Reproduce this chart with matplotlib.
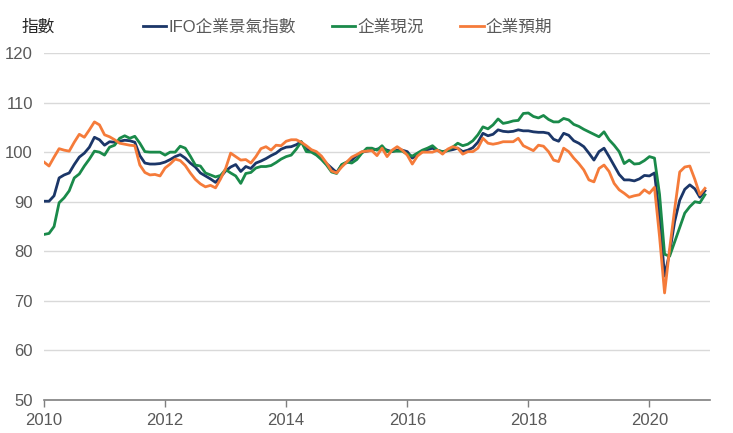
import matplotlib.pyplot as plt
import numpy as np

plt.rcParams['font.family'] = ['Liberation Sans', 'Noto Sans CJK TC']

# monthly values, Jan 2010 - Dec 2020
ifo_climate = [
    90.1, 90.1, 91.2, 94.8, 95.4, 95.8, 97.5, 99.0, 99.8, 101.0, 103.0, 102.5,
    101.4, 102.1, 102.0, 102.2, 102.4, 102.3, 102.0, 99.3, 97.8, 97.6, 97.6, 97.7,
    98.0, 98.5, 99.1, 99.5, 98.8, 97.8, 97.0, 95.8, 95.2, 94.6, 93.9, 95.0,
    96.2, 97.0, 97.5, 96.1, 97.1, 96.7, 97.8, 98.2, 98.7, 99.3, 99.8, 100.6,
    101.0, 101.1, 101.5, 102.1, 100.6, 100.2, 99.8, 98.8, 97.7, 96.8, 95.9, 97.4,
    97.9, 98.4, 99.3, 100.0, 100.2, 100.4, 100.6, 100.8, 100.4, 100.1, 100.4, 100.4,
    100.1, 98.8, 99.5, 100.1, 100.5, 100.8, 100.3, 100.1, 100.3, 100.5, 100.8, 100.1,
    100.4, 100.9, 102.0, 103.8, 103.3, 103.6, 104.5, 104.2, 104.1, 104.2, 104.5, 104.3,
    104.3, 104.1, 104.0, 104.0, 103.8, 102.6, 102.2, 103.8, 103.4, 102.3, 101.8, 101.1,
    99.8, 98.4, 100.1, 100.8, 99.1, 97.3, 95.5, 94.4, 94.4, 94.2, 94.6, 95.3,
    95.2, 95.8, 87.0, 75.0, 79.7, 86.0, 90.3, 92.5, 93.4, 92.6, 90.9, 92.2,
]

situation = [
    83.4, 83.6, 85.0, 89.8, 90.8, 92.2, 94.8, 95.6, 97.2, 98.6, 100.2, 100.0,
    99.4, 101.0, 101.4, 102.8, 103.3, 102.8, 103.2, 101.8, 100.1, 100.0, 100.0, 100.0,
    99.4, 100.0, 100.0, 101.2, 100.8, 99.2, 97.4, 97.2, 95.8, 95.4, 95.0, 95.3,
    96.5, 95.8, 95.2, 93.7, 95.7, 95.9, 96.8, 97.1, 97.1, 97.3, 97.9, 98.6,
    99.1, 99.4, 100.6, 102.1, 100.1, 100.0, 99.4, 98.5, 97.4, 96.0, 95.7, 97.5,
    98.0, 97.8, 98.5, 99.8, 100.8, 100.8, 100.4, 101.3, 100.1, 100.2, 100.2, 100.2,
    99.6, 99.2, 99.8, 100.4, 100.8, 101.3, 100.4, 100.1, 100.3, 101.0, 101.8, 101.3,
    101.6, 102.3, 103.5, 105.1, 104.7, 105.5, 106.7, 105.8, 106.0, 106.3, 106.4, 107.8,
    107.9, 107.2, 106.9, 107.4, 106.6, 106.1, 106.1, 106.8, 106.5, 105.6, 105.2, 104.6,
    104.1, 103.6, 103.1, 104.1, 102.5, 101.4, 100.1, 97.7, 98.4, 97.6, 97.7, 98.3,
    99.1, 98.8, 91.5, 79.4, 79.0, 81.9, 84.8, 87.7, 89.0, 90.0, 89.8, 91.4,
]

expectations = [
    98.0, 97.2, 99.0, 100.7, 100.4, 100.2, 102.0, 103.6, 103.0, 104.5, 106.1, 105.5,
    103.5, 103.1, 102.5, 101.8, 101.6, 101.4, 101.3, 97.4, 95.9, 95.4, 95.5, 95.2,
    96.8, 97.6, 98.6, 98.3, 97.3, 95.8, 94.5, 93.6, 93.0, 93.3, 92.8, 94.6,
    96.7, 99.8, 99.1, 98.4, 98.5, 97.8, 99.1, 100.7, 101.1, 100.4, 101.4, 101.3,
    102.2, 102.5, 102.5, 102.0, 101.3, 100.5, 100.1, 99.2, 97.8, 96.2, 95.8, 97.0,
    98.0, 99.0, 99.5, 100.1, 100.2, 100.3, 99.3, 100.8, 99.1, 100.4, 101.1, 100.4,
    99.4, 97.6, 99.2, 100.0, 100.0, 100.0, 100.4, 99.6, 100.6, 101.1, 100.8, 99.6,
    100.1, 100.1, 100.8, 102.8, 101.8, 101.6, 101.8, 102.1, 102.1, 102.1, 102.8, 101.3,
    100.8, 100.3, 101.4, 101.2, 100.1, 98.4, 98.1, 100.8, 100.1, 98.8, 97.7, 96.4,
    94.4, 94.0, 96.7, 97.4, 96.1, 93.7, 92.4, 91.7, 90.9, 91.2, 91.4, 92.4,
    91.7, 92.9, 83.0, 71.6, 80.5, 88.5, 96.0, 97.0, 97.2, 94.5, 91.4, 92.7,
]

labels = ['IFO企業景氣指數', '企業現況', '企業預期']
colors = ['#1b3668', '#1a8a4a', '#f57b3a']
year_ticks = [2010, 2012, 2014, 2016, 2018, 2020]

dates = 2010 + np.arange(len(ifo_climate)) / 12

fig = plt.figure(figsize=(7.33, 4.33), dpi=100)
ax = fig.add_axes([0.060, 0.0762, 0.9086, 0.8014])

for series, label, color in zip([ifo_climate, situation, expectations], labels, colors):
    ax.plot(dates, series, color=color, lw=2.0, label=label)

ax.set_xlim(2010, 2021)
ax.set_ylim(50, 120)
ax.set_yticks(range(50, 121, 10))
ax.set_xticks(year_ticks)
ax.grid(axis='y', color='#d9d9d9', lw=1)
ax.set_axisbelow(True)
for side in ['left', 'right', 'top']:
    ax.spines[side].set_visible(False)
ax.spines['bottom'].set_color('#7f7f7f')
ax.spines['bottom'].set_linewidth(1.2)
ax.tick_params(axis='y', length=0, labelsize=12, colors='#595959', pad=8)
ax.tick_params(axis='x', length=5, width=1, color='#7f7f7f', labelsize=12,
               labelcolor='#595959', pad=4)

fig.text(0.030, 0.938, '指數', fontsize=12, color='#262626', va='center')
fig.legend(loc='center', bbox_to_anchor=(0.474, 0.938), ncol=3, frameon=False,
           fontsize=12, handlelength=1.4, handletextpad=0.1, columnspacing=2.2,
           labelcolor='#595959')

fig.savefig('out.png', dpi=100)
